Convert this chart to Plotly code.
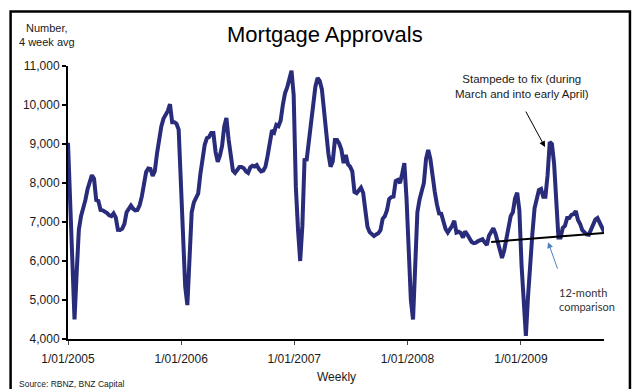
import pandas as pd
import plotly.graph_objects as go

# ---- data ----
start_date = "2005-01-01"
approvals = [
    9030, 7400, 5800, 4500, 5700, 6800, 7150, 7330, 7560, 7840,
    8020, 8200, 8110, 7560, 7540, 7310, 7300, 7270, 7230, 7170,
    7150, 7220, 7120, 6800, 6795, 6830, 6950, 7250, 7360, 7420,
    7340, 7300, 7310, 7430, 7650, 8000, 8280, 8370, 8360, 8180,
    8300, 8750, 9130, 9450, 9650, 9750, 9850, 10020, 9560, 9560,
    9520, 9370, 8200, 6600, 5350, 4870, 5950, 7250, 7500, 7620,
    7730, 8230, 8700, 8980, 9150, 9180, 9280, 9280, 8800, 8540,
    8700, 8950, 9450, 9670, 9120, 8640, 8320, 8260, 8340, 8410,
    8410, 8380, 8300, 8260, 8400, 8440, 8420, 8460, 8360, 8300,
    8320, 8420, 8700, 9120, 9350, 9300, 9490, 9460, 9600, 10000,
    10300, 10450, 10670, 10880, 10250, 7900, 6800, 6000, 6900, 8590,
    8600, 9060, 9460, 9850, 10470, 10690, 10620, 10400, 9800, 9200,
    8750, 8420, 8550, 9100, 9100, 9010, 8850, 8510, 8720, 8480,
    8420, 8300, 7770, 7740, 7830, 7880, 7750, 7360, 6880, 6740,
    6680, 6640, 6680, 6710, 6790, 7080, 7150, 7300, 7590, 7640,
    7650, 8050, 8080, 8000, 8240, 8510, 7600, 6300, 5000, 4500,
    6000, 7250, 7580, 7750, 8000, 8620, 8850, 8610, 8150, 7780,
    7450, 7220, 7210, 7000, 6820, 6730, 6800, 6900, 7030, 6730,
    6750, 6720, 6600, 6760, 6680, 6560, 6490, 6460, 6470, 6510,
    6540, 6560, 6480, 6410, 6650, 6760, 6840, 6700, 6520, 6300,
    6080, 6270, 6600, 6900, 7150, 7250, 7600, 7750, 7300, 5900,
    4800, 4080, 5100, 6000, 6700, 7350, 7650, 7820, 7850, 7650,
    7650, 8200, 9050, 9000, 8500, 7500, 6600, 6600, 6850, 6900,
    7100, 7100, 7180, 7200, 7280, 7050, 6950, 6790, 6720, 6680,
    6670, 6800, 6980, 7060, 7100, 7000, 6900, 6750,
]
weeks = pd.date_range(start_date, periods=len(approvals), freq="7D")

trend_dates = ["2008-09-27", "2009-09-26"]
trend_values = [6490, 6720]

tick_dates = ["2005-01-01", "2006-01-01", "2007-01-01", "2008-01-01", "2009-01-01"]
tick_labels = ["1/01/2005", "1/01/2006", "1/01/2007", "1/01/2008", "1/01/2009"]
y_ticks = [4000, 5000, 6000, 7000, 8000, 9000, 10000, 11000]

FONT = "Arial, Liberation Sans, sans-serif"

fig = go.Figure()
fig.add_trace(go.Scatter(
    x=weeks, y=approvals, mode="lines",
    line=dict(color="#292C7A", width=4), hoverinfo="skip", showlegend=False,
))
fig.add_trace(go.Scatter(
    x=trend_dates, y=trend_values, mode="lines",
    line=dict(color="black", width=2), hoverinfo="skip", showlegend=False,
))

fig.update_layout(
    width=635, height=389,
    margin=dict(l=68, r=31, t=66, b=50),
    paper_bgcolor="white", plot_bgcolor="white",
    font=dict(family=FONT, color="#1a1a1a", size=12),
    showlegend=False,
)
fig.update_xaxes(
    range=[start_date, str(weeks[-1].date())],
    tickvals=tick_dates, ticktext=tick_labels,
    showgrid=False, zeroline=False,
    showline=True, linecolor="black", linewidth=2,
    ticks="outside", ticklen=4, tickwidth=1, tickcolor="#444",
    tickfont=dict(size=12, family=FONT, color="#1a1a1a"),
    ticklabelstandoff=4,
)
fig.update_yaxes(
    range=[4000, 11000], tickvals=y_ticks, tickformat=",d",
    showgrid=False, zeroline=False,
    showline=True, linecolor="black", linewidth=2,
    ticks="outside", ticklen=4, tickwidth=2, tickcolor="black",
    tickfont=dict(size=12, family=FONT, color="#1a1a1a"),
)

# outer frame
fig.add_shape(type="rect", xref="paper", yref="paper",
              x0=-0.1071, x1=1.0484, y0=-0.24, y1=1.1996,
              line=dict(color="black", width=2.5), fillcolor="rgba(0,0,0,0)", layer="above")

ann = []
ann.append(dict(text="Mortgage Approvals", x=0.4786, y=1.1136, xref="paper", yref="paper",
                xanchor="center", yanchor="middle", showarrow=False,
                font=dict(size=22, family=FONT, color="black")))
ann.append(dict(text="Number,<br>4 week avg", x=-0.039, y=1.1136, xref="paper", yref="paper",
                xanchor="center", yanchor="middle", showarrow=False, align="center",
                font=dict(size=11, family=FONT, color="#1a1a1a")))
ann.append(dict(text="Weekly", x=0.501, y=-0.139, xref="paper", yref="paper",
                xanchor="center", yanchor="middle", showarrow=False,
                font=dict(size=12, family=FONT, color="#1a1a1a")))
ann.append(dict(text="Source: RBNZ, BNZ Capital", x=-0.095, y=-0.165, xref="paper", yref="paper",
                xanchor="left", yanchor="middle", showarrow=False,
                font=dict(size=8.5, family=FONT, color="#1a1a1a")))
ann.append(dict(text="Stampede to fix (during<br>March and into early April)", x=0.847, y=0.9267,
                xref="paper", yref="paper", xanchor="center", yanchor="middle", showarrow=False,
                align="center", font=dict(size=11.5, family=FONT, color="#1a1a1a")))
ann.append(dict(text="", x=0.890, y=0.703, xref="paper", yref="paper",
                showarrow=True, ax=-20, ay=-37, arrowhead=2, arrowsize=1.2, arrowwidth=1,
                arrowcolor="black"))
ann.append(dict(text="12-month<br>comparison", x=0.9125, y=0.1465, xref="paper", yref="paper",
                xanchor="left", yanchor="middle", showarrow=False, align="left",
                font=dict(size=11, family="Lato, Open Sans, sans-serif", color="#333333")))
ann.append(dict(text="", x=0.8957, y=0.3546, xref="paper", yref="paper",
                showarrow=True, ax=10, ay=28, arrowhead=2, arrowsize=1.2, arrowwidth=1,
                arrowcolor="#4F81BD"))
fig.update_layout(annotations=ann)

fig.write_html("out.html")
